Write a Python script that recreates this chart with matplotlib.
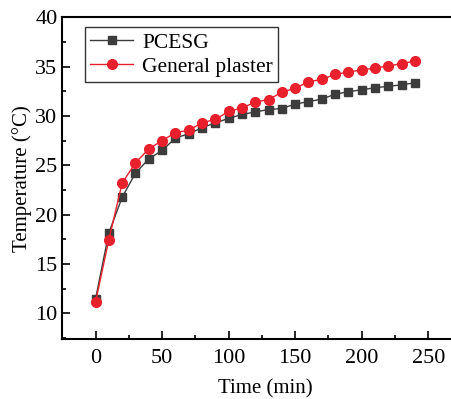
import numpy as np
import matplotlib.pyplot as plt
from matplotlib.ticker import MultipleLocator

plt.rcParams['font.family'] = ['Liberation Serif', 'DejaVu Serif']

time = [0, 10, 20, 30, 40, 50, 60, 70, 80, 90, 100, 110, 120,
        130, 140, 150, 160, 170, 180, 190, 200, 210, 220, 230, 240]
pcesg = [11.45, 18.15, 21.75, 24.2, 25.65, 26.5, 27.75, 28.2, 28.8, 29.3,
         29.75, 30.15, 30.4, 30.65, 30.75, 31.2, 31.45, 31.7, 32.2, 32.45,
         32.65, 32.85, 33.0, 33.15, 33.35]
plaster = [11.15, 17.45, 23.2, 25.25, 26.65, 27.5, 28.3, 28.55, 29.3, 29.65,
           30.45, 30.8, 31.4, 31.65, 32.4, 32.8, 33.45, 33.7, 34.2, 34.45,
           34.65, 34.85, 35.05, 35.3, 35.55]

fig = plt.figure(figsize=(4.51, 3.99), dpi=100)
ax = fig.add_axes([0.138, 0.150, 0.900, 0.807])

ax.plot(time, pcesg, '-s', color='#3c3c3c', lw=1.0, ms=6, label='PCESG')
ax.plot(time, plaster, '-o', color='#e8202c', lw=1.0, ms=7, label='General plaster')

ax.set_xlim(-25, 280)
ax.set_ylim(7.4, 40)
ax.xaxis.set_major_locator(MultipleLocator(50))
ax.xaxis.set_minor_locator(MultipleLocator(25))
ax.yaxis.set_major_locator(MultipleLocator(5))
ax.yaxis.set_minor_locator(MultipleLocator(2.5))
ax.tick_params(which='both', direction='in', labelsize=16, width=1.2)
ax.tick_params(which='major', length=6)
ax.tick_params(which='minor', length=3)
ax.tick_params(axis='x', pad=7)
for s in ax.spines.values():
    s.set_linewidth(1.5)

ax.set_xlabel('Time (min)', fontsize=15, labelpad=8)
ax.set_ylabel('Temperature (°C)', fontsize=15, labelpad=2)

leg = ax.legend(loc='upper left', fontsize=15.5, frameon=True, fancybox=False,
                edgecolor='black', borderpad=0.25, labelspacing=0.2,
                handlelength=2.0, handletextpad=0.4,
                bbox_to_anchor=(0.056, 0.969), borderaxespad=0)
leg.get_frame().set_linewidth(1.0)

fig.savefig('out.png', dpi=100)
